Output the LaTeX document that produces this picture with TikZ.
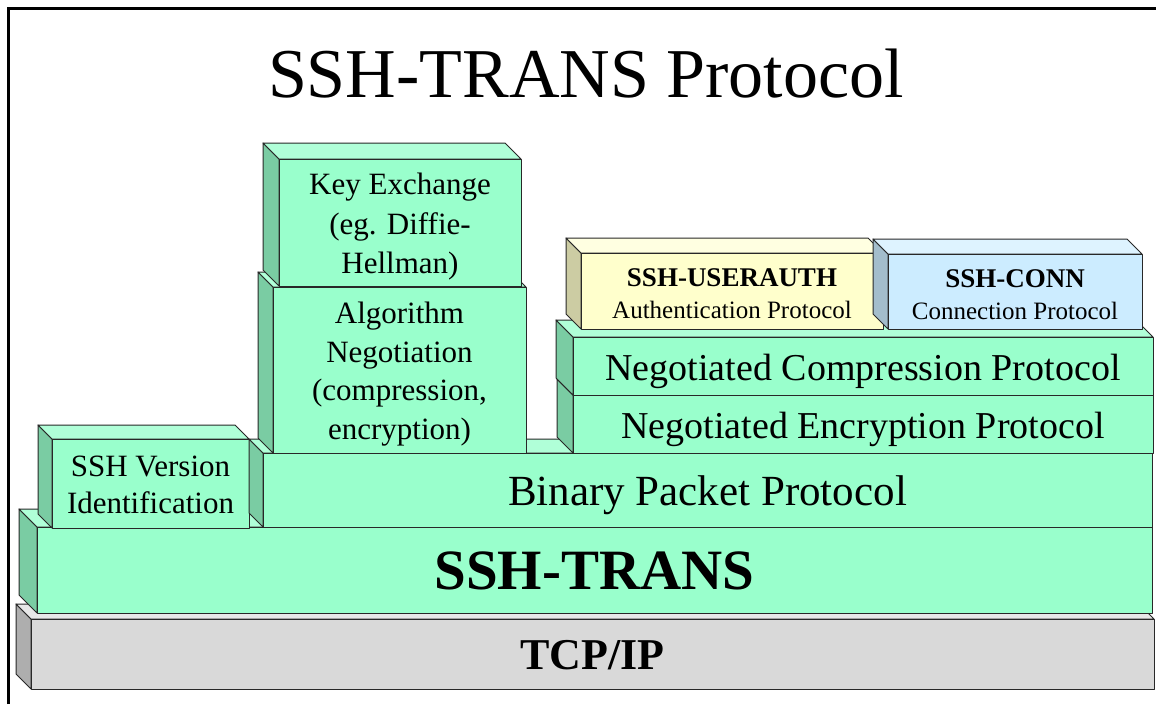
\documentclass[tikz,border=0pt]{standalone}
\usepackage{fontspec}
\setmainfont{Liberation Serif}
\usetikzlibrary{calc}
\definecolor{Edge}{RGB}{40, 40, 40}
\definecolor{GreenFront}{RGB}{153, 255, 204}
\definecolor{GreenSide}{RGB}{122, 204, 163}
\definecolor{GreenTop}{RGB}{176, 255, 216}
\definecolor{GrayFront}{RGB}{217, 217, 217}
\definecolor{GraySide}{RGB}{174, 174, 174}
\definecolor{GrayTop}{RGB}{232, 232, 232}
\definecolor{YellowFront}{RGB}{255, 255, 204}
\definecolor{YellowSide}{RGB}{204, 204, 163}
\definecolor{YellowTop}{RGB}{255, 255, 225}
\definecolor{BlueFront}{RGB}{204, 236, 255}
\definecolor{BlueSide}{RGB}{163, 189, 204}
\definecolor{BlueTop}{RGB}{222, 243, 255}
% #1 name #2 colour #3 upper left #4 lower right #5 depth #6 node options #7 text
\def\slab#1#2#3#4#5#6#7{
  \path (#3) coordinate (#1nw) (#4) coordinate (#1se) (#1nw |- #1se) coordinate (#1sw) (#1se |- #1nw) coordinate (#1ne);
  \filldraw[face,fill=#2Side] (#1sw) -- ++(-#5,-#5) -- ($(#1nw)+(-#5,-#5)$) -- (#1nw) -- cycle;
  \filldraw[face,fill=#2Top] (#1nw) -- ++(-#5,-#5) -- ($(#1ne)+(-#5,-#5)$) -- (#1ne) -- cycle;
  \filldraw[face,fill=#2Front] (#1nw) rectangle (#1se);
  \node[align=center,#6] (#1) at ($(#1nw)!0.5!(#1se)$) {#7};
}

\begin{document}
\begin{tikzpicture}[x=1pt,y=-1pt,face/.style={draw=Edge,line width=1pt,line join=round}]
\useasboundingbox (0,0) rectangle (1156,704);

% frame of the slide
\draw[line width=3pt] (8,704) -- (8,8) -- (1156,8);

\node[anchor=base,font=\fontsize{70}{84}\selectfont] (title) at (586,97) {SSH-TRANS Protocol};

% bottom layers
\slab{tcp}{Gray}{31,619}{1154,689}{15}{font=\fontsize{44}{50}\selectfont\bfseries,yshift=-1pt}{TCP/IP}
\slab{trans}{Green}{37,527}{1152,613}{18}{font=\fontsize{57}{64}\selectfont\bfseries,yshift=-1pt}{SSH-TRANS}

% left stacks
\slab{version}{Green}{52,439}{249,528}{14}{font=\fontsize{31}{37}\selectfont,yshift=-1pt}{SSH Version\\Identification}
\slab{binary}{Green}{263,453}{1152,527}{14}{font=\fontsize{43}{50}\selectfont,yshift=-5pt}{Binary Packet Protocol}
\slab{algo}{Green}{273,287}{526,453}{15}{font=\fontsize{31}{38.5}\selectfont,yshift=-4pt}{Algorithm\\Negotiation\\(compression,\\encryption)}
\slab{keyx}{Green}{279,159}{521,286}{16}{font=\fontsize{31}{39.5}\selectfont,yshift=-4.5pt}{Key Exchange\\(eg. Diffie-\\Hellman)}

% right stack
\slab{encr}{Green}{573,395}{1153,453}{16}{font=\fontsize{38}{44}\selectfont,yshift=-5pt}{Negotiated Encryption Protocol}
\slab{compr}{Green}{573,337}{1153,395}{17}{font=\fontsize{38}{44}\selectfont,yshift=-5pt}{Negotiated Compression Protocol}
\slab{userauth}{Yellow}{581,253}{883,329}{15}{font=\fontsize{25}{32}\selectfont,yshift=-3pt}{\textbf{\fontsize{27}{32}\selectfont SSH-USERAUTH}\\Authentication Protocol}
\slab{conn}{Blue}{888,254}{1142,329}{15}{font=\fontsize{25}{32}\selectfont,yshift=-3pt}{\textbf{\fontsize{27}{32}\selectfont SSH-CONN}\\Connection Protocol}

\end{tikzpicture}
\end{document}
